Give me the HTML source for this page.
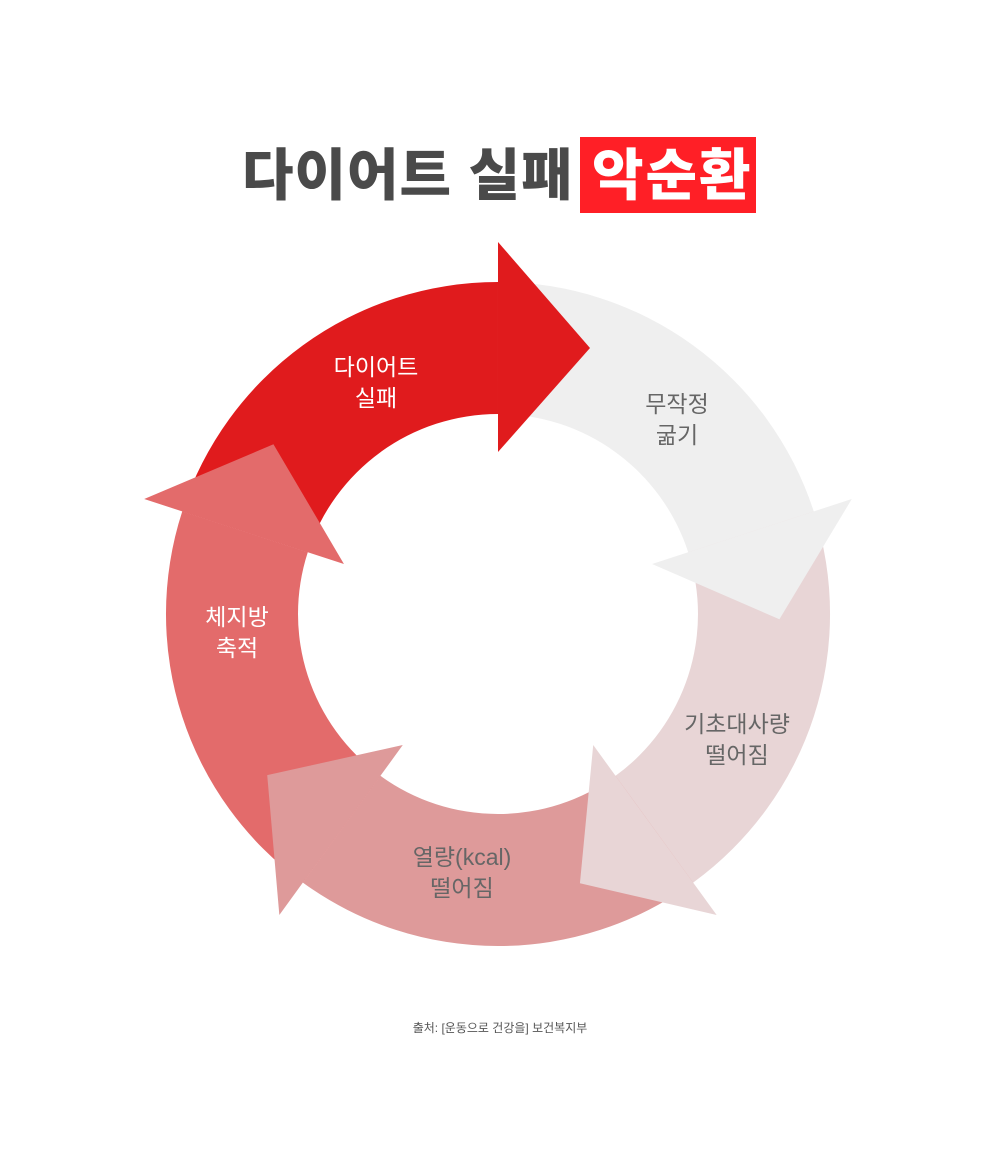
<!DOCTYPE html>
<html><head><meta charset="utf-8"><style>
html,body{margin:0;padding:0;background:#fff;}
body{width:1000px;height:1172px;position:relative;overflow:hidden;font-family:"Liberation Sans","Noto Sans CJK KR",sans-serif;}
.t{position:absolute;font-weight:900;font-size:56px;line-height:76px;top:138px;}
.lab{position:absolute;font-size:23px;line-height:31px;text-align:center;width:200px;}
</style></head><body>
<div class="t" style="left:242px;color:#4a4a4a;letter-spacing:1px;">다이어트 실패</div>
<div style="position:absolute;left:580px;top:137px;width:176px;height:76px;background:#ff1f26;"></div>
<div class="t" style="left:592px;color:#fff;letter-spacing:2px;">악순환</div>
<svg width="1000" height="1172" style="position:absolute;left:0;top:0">
<defs>
<path id="b" d="M182.2,511.4 A332,332 0 0 1 498,282 L498,414 A200,200 0 0 0 307.8,552.2 Z"/>
<polygon id="h" points="498,242 590,348 498,452"/>
</defs>
<use href="#b" fill="#e01b1d"/>
<use href="#b" fill="#efefef" transform="rotate(72 498 614)"/>
<use href="#b" fill="#e8d5d6" transform="rotate(144 498 614)"/>
<use href="#b" fill="#de9a9a" transform="rotate(216 498 614)"/>
<use href="#b" fill="#e36b6b" transform="rotate(288 498 614)"/>
<use href="#h" fill="#e01b1d"/>
<use href="#h" fill="#efefef" transform="rotate(72 498 614)"/>
<use href="#h" fill="#e8d5d6" transform="rotate(144 498 614)"/>
<use href="#h" fill="#de9a9a" transform="rotate(216 498 614)"/>
<use href="#h" fill="#e36b6b" transform="rotate(288 498 614)"/>
</svg>
<div class="lab" style="left:276px;top:352px;color:#fff;">다이어트<br>실패</div>
<div class="lab" style="left:577px;top:389px;color:#666;">무작정<br>굶기</div>
<div class="lab" style="left:637px;top:709px;color:#666;">기초대사량<br>떨어짐</div>
<div class="lab" style="left:362px;top:842px;color:#666;">열량(kcal)<br>떨어짐</div>
<div class="lab" style="left:137px;top:602px;color:#fff;">체지방<br>축적</div>
<div style="position:absolute;left:0;width:1000px;top:1019px;text-align:center;font-size:12px;color:#555;">출처: [운동으로 건강을] 보건복지부</div>
</body></html>
